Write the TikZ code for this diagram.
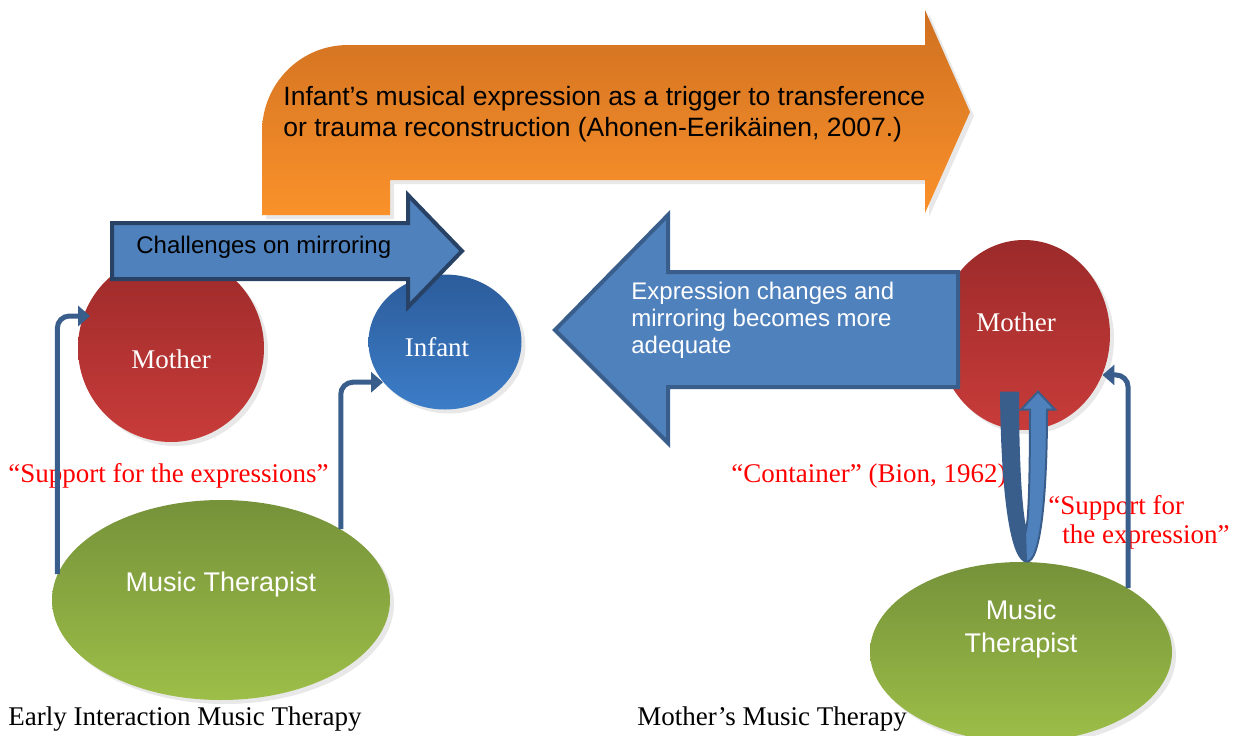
\documentclass[tikz,border=0pt]{standalone}
\usepackage{fontspec}
\setmainfont{Liberation Serif}
\setsansfont{Liberation Sans}
\usepackage{tikz}
\usetikzlibrary{arrows.meta,calc,positioning,shapes.geometric,shadows}

\definecolor{redtop}{RGB}{156,42,42}
\definecolor{redbot}{RGB}{200,60,58}
\definecolor{bluetop}{RGB}{44,92,155}
\definecolor{bluebot}{RGB}{60,125,200}
\definecolor{greentop}{RGB}{118,146,58}
\definecolor{greenbot}{RGB}{157,190,72}
\definecolor{orangetop}{RGB}{207,112,33}
\definecolor{orangebot}{RGB}{250,145,42}
\definecolor{arrowfill}{RGB}{79,129,189}
\definecolor{chalborder}{RGB}{40,66,102}
\definecolor{linkblue}{RGB}{58,94,140}

\begin{document}
\begin{tikzpicture}[x=0.5pt,y=-0.5pt,
  blob/.style={ellipse,inner sep=0pt,text=white,
    font=\fontsize{13.5pt}{16pt}\selectfont,
    drop shadow={opacity=.18,shadow xshift=2pt,shadow yshift=-2pt}},
  mumnode/.style={blob,top color=redtop,bottom color=redbot},
  babynode/.style={blob,top color=bluetop,bottom color=bluebot},
  mtnode/.style={blob,top color=greentop,bottom color=greenbot,
    font=\sffamily\fontsize{13.5pt}{16.5pt}\selectfont},
  quote/.style={text=red,inner sep=0pt,font=\fontsize{13.5pt}{14.5pt}\selectfont},
  caption/.style={inner sep=0pt,font=\fontsize{13.5pt}{16pt}\selectfont},
  arrowtext/.style={inner sep=0pt,align=left,font=\sffamily\fontsize{12pt}{13.5pt}\selectfont},
  support/.style={draw=linkblue,line width=2.5pt,rounded corners=6pt,
    -{Triangle[length=6pt,width=10pt]}}]
\useasboundingbox (0,0) rectangle (1233,735);

% the orange bent arrow on top
\path[top color=orangetop,bottom color=orangebot,
      drop shadow={opacity=.18,shadow xshift=2pt,shadow yshift=-2pt}]
  (262,215) -- (262,132) .. controls (262,84) and (300,45) .. (348,45)
  -- (925,45) -- (925,10) -- (970,112) -- (925,213) -- (925,180)
  -- (390,180) -- (390,215) -- cycle;
\node[arrowtext,anchor=west,font=\sffamily\fontsize{13.25pt}{15.5pt}\selectfont]
  (trigger) at (283,114)
  {Infant’s musical expression as a trigger to transference\\
   or trauma reconstruction (Ahonen-Eerikäinen, 2007.)};

% persons
\node[mumnode,minimum width=93pt,minimum height=94pt,text height=21pt] (motherL) at (171,348) {Mother};
\node[babynode,minimum width=76.5pt,minimum height=67.5pt,text height=15pt] (infant) at (445,342) {\hspace*{-8pt}Infant};
\node[mtnode,minimum width=169pt,minimum height=100pt,text depth=18pt] (mtL) at (221,600) {Music Therapist};
\node[mumnode,minimum width=86pt,minimum height=95pt,text depth=13pt] (motherR) at (1024,335) {\hspace*{-8pt}Mother};
\node[mtnode,minimum width=151pt,minimum height=90pt,text depth=26pt,align=center] (mtR) at (1021,652) {Music\\Therapist};

% block arrows
\draw[line width=2pt,draw=chalborder,fill=arrowfill]
  (112,223) -- (408,223) -- (408,195) -- (462,251) -- (408,307) -- (408,279) -- (112,279) -- cycle;
\node[arrowtext,anchor=west] (mirror) at (136,247) {Challenges on mirroring};
\draw[line width=2pt,draw=linkblue,fill=arrowfill]
  (958,272) -- (668,272) -- (668,215) -- (555,330) -- (668,443) -- (668,387) -- (958,387) -- cycle;
\node[arrowtext,anchor=west,text=white] (changes) at (631,320)
  {Expression changes and\\mirroring becomes more\\adequate};

% labels
\node[quote,anchor=west] (supL) at (8,476) {“Support for the expressions”};
\node[quote,anchor=west] (bion) at (731,476) {“Container” (Bion, 1962)};
\node[quote,anchor=west,align=left] (supR) at (1048,522) {“Support for\\\hspace*{7pt}the expression”};
\node[caption,anchor=west] (capL) at (8,719) {Early Interaction Music Therapy};
\node[caption,anchor=west] (capR) at (637,719) {Mother’s Music Therapy};

% support connectors
\draw[support] (mtL.171) |- ([xshift=3.5pt]motherL.160);
\draw[support] (mtL.north east) |- (infant.213);
\draw[support] (mtR.north east) |- (motherR.333);

% container u-turn
\begin{scope}[shift={(mtR.north)}]
\draw[line width=1pt,draw=linkblue,fill=arrowfill]
  (-20,-169) .. controls (-19,-62) and (-9,0) .. (6,0)
  .. controls (19,0) and (26,-62) .. (26,-152) -- (34,-152) -- (17,-170)
  -- (0,-152) -- (9,-152) .. controls (9,-92) and (8,-42) .. (5,-32)
  .. controls (1,-42) and (-3,-92) .. (-3,-169) -- cycle;
\fill[linkblue]
  (-20,-169) .. controls (-19,-62) and (-9,0) .. (6,0) -- (5,-32)
  .. controls (1,-42) and (-3,-92) .. (-3,-169) -- cycle;
\end{scope}
\end{tikzpicture}
\end{document}
